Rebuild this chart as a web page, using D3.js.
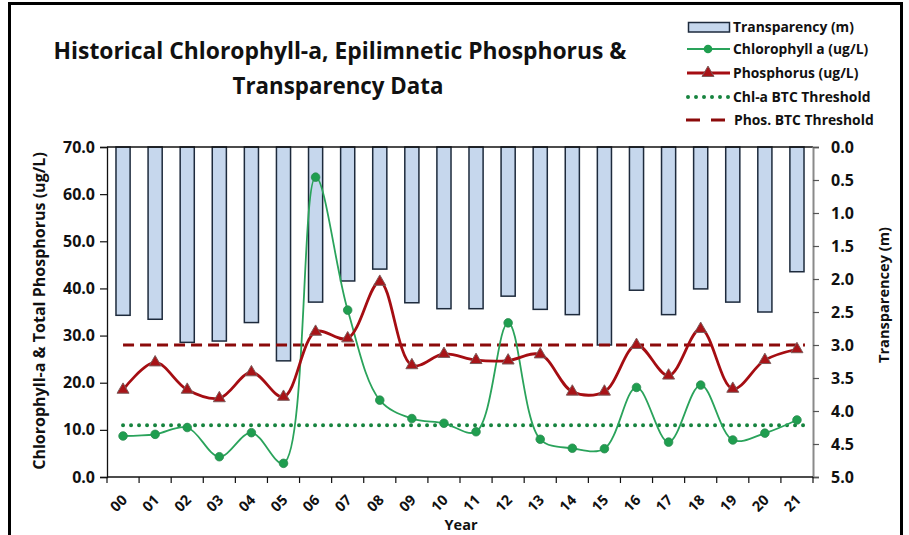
<!DOCTYPE html>
<html><head><meta charset="utf-8">
<script src="https://cdn.jsdelivr.net/npm/d3@7"></script>
<style>body{margin:0;background:#fff}svg{display:block}text{font-family:"Open Sans",sans-serif;font-weight:700;fill:#111}</style>
</head><body><svg id="c" width="909" height="535"></svg>
<script>
const years = ["00","01","02","03","04","05","06","07","08","09","10","11","12","13","14","15","16","17","18","19","20","21"];
const transparency = [2.55,2.61,2.96,2.94,2.66,3.24,2.35,2.03,1.85,2.36,2.45,2.45,2.26,2.46,2.54,3.0,2.17,2.54,2.15,2.35,2.5,1.89];
const chlorophyll = [8.7,9.05,10.5,4.3,9.4,2.9,63.6,35.4,16.3,12.4,11.4,9.6,32.7,8.0,6.1,6.0,19.0,7.4,19.5,7.85,9.3,12.1];
const phosphorus = [18.5,24.3,18.5,16.7,22.2,17.0,30.8,29.4,41.4,23.7,26.1,24.8,24.7,26.0,18.1,18.1,28.0,21.5,31.4,18.7,24.8,27.1];
const chlThreshold = 11;
const phosThreshold = 28;
const leftTicks = [0,10,20,30,40,50,60,70];
const rightTicks = [0,0.5,1,1.5,2,2.5,3,3.5,4,4.5,5];
const titleLines = ["Historical Chlorophyll-a, Epilimnetic Phosphorus &","Transparency Data"];
const legendLabels = ["Transparency (m)","Chlorophyll a (ug/L)","Phosphorus (ug/L)","Chl-a BTC Threshold","Phos. BTC Threshold"];

const svg = d3.select("#c");
const L = 107, R = 813, T = 147, B = 477;
const x = d3.scaleBand().domain(years).range([L, R]).padding(0);
const yL = d3.scaleLinear().domain([0, 70]).range([B, T]);
const yR = d3.scaleLinear().domain([0, 5]).range([T, B]);
const bw = x.bandwidth();
const cx = d => x(d) + bw / 2;

const C = {bar:"#c6d7ed", barStroke:"#1d2a3c", chl:"#2aa35b", chlDot:"#1f9e4f", phos:"#a50d12", tri:"#a81418", chlTh:"#17843f", phosTh:"#8b0a0a"};

function fit(sel, w) {
  sel.each(function(){
    const fs = parseFloat(this.getAttribute("font-size"));
    const len = this.getComputedTextLength();
    this.setAttribute("font-size", (fs * w / len).toFixed(2));
  });
}

// outer frame
svg.append("rect").attr("x", 9.5).attr("y", 3.5).attr("width", 892).attr("height", 545)
  .attr("fill", "#fff").attr("stroke", "#000").attr("stroke-width", 3);

// title
const t1 = svg.append("text").attr("x", 340).attr("y", 59).attr("text-anchor","middle").attr("font-size",20).text(titleLines[0]);
fit(t1, 573);
const t2 = svg.append("text").attr("x", 338).attr("y", 94).attr("text-anchor","middle").attr("font-size",20).text(titleLines[1]);
fit(t2, 211);

// bars (transparency, reversed secondary axis)
svg.append("g").selectAll("rect").data(years).join("rect")
  .attr("x", d => x(d) + bw * 0.28).attr("width", bw * 0.44)
  .attr("y", yR(0)).attr("height", (d, i) => yR(transparency[i]) - yR(0))
  .attr("fill", C.bar).attr("stroke", C.barStroke).attr("stroke-width", 1.5);

// thresholds
const x0 = cx(years[0]), x1 = cx(years[years.length - 1]);
svg.append("line").attr("x1", x0).attr("x2", x1 + 8).attr("y1", yL(phosThreshold)).attr("y2", yL(phosThreshold))
  .attr("stroke", C.phosTh).attr("stroke-width", 3).attr("stroke-dasharray", "11,6");
svg.append("line").attr("x1", x0).attr("x2", x1 + 8).attr("y1", yL(chlThreshold)).attr("y2", yL(chlThreshold))
  .attr("stroke", C.chlTh).attr("stroke-width", 4).attr("stroke-linecap","round").attr("stroke-dasharray", "0,8");

// lines
const lineL = d3.line().curve(d3.curveCatmullRom.alpha(0.5)).x(d => cx(d[0])).y(d => yL(d[1]));
svg.append("path").attr("d", lineL(years.map((d, i) => [d, chlorophyll[i]])))
  .attr("fill", "none").attr("stroke", C.chl).attr("stroke-width", 1.8);
svg.append("path").attr("d", lineL(years.map((d, i) => [d, phosphorus[i]])))
  .attr("fill", "none").attr("stroke", C.phos).attr("stroke-width", 2.8);

svg.append("g").selectAll("circle").data(years).join("circle")
  .attr("cx", d => cx(d)).attr("cy", (d, i) => yL(chlorophyll[i])).attr("r", 4.3)
  .attr("fill", C.chlDot).attr("stroke", "#2c8a50").attr("stroke-width", 0.8);
const tri = d3.symbol().type(d3.symbolTriangle).size(62);
svg.append("g").selectAll("path").data(years).join("path")
  .attr("d", tri).attr("transform", (d, i) => `translate(${cx(d)},${yL(phosphorus[i])})`)
  .attr("fill", C.tri).attr("stroke", "#7d5b5b").attr("stroke-width", 1);

// axes
svg.append("line").attr("x1", L).attr("x2", R).attr("y1", T).attr("y2", T).attr("stroke", "#111").attr("stroke-width", 1.3);
const gl = svg.append("g").attr("transform", `translate(${L},0)`)
  .call(d3.axisLeft(yL).tickValues(leftTicks).tickFormat(d3.format(".1f")).tickSize(7).tickPadding(5));
gl.select(".domain").attr("stroke", "#111").attr("stroke-width", 1.3);
gl.selectAll(".tick line").attr("stroke", "#111").attr("stroke-width", 1.2);
gl.selectAll(".tick text").attr("font-size", 16).attr("font-family", "Open Sans").attr("font-weight", 700).attr("fill", "#111");
const gr = svg.append("g").attr("transform", `translate(${R},0)`)
  .call(d3.axisRight(yR).tickValues(rightTicks).tickFormat(d3.format(".1f")).tickSize(6).tickPadding(12));
gr.select(".domain").attr("stroke", "#8a8a8a").attr("stroke-width", 2);
gr.selectAll(".tick line").attr("stroke", "#555").attr("stroke-width", 1.2);
gr.selectAll(".tick text").attr("font-size", 16).attr("font-family", "Open Sans").attr("font-weight", 700).attr("fill", "#111");
svg.append("line").attr("x1", L).attr("x2", R).attr("y1", B).attr("y2", B).attr("stroke", "#111").attr("stroke-width", 1.3);
const bounds = years.map(d => x(d)).concat([R]);
svg.append("g").selectAll("line").data(bounds).join("line")
  .attr("x1", d => d).attr("x2", d => d).attr("y1", B).attr("y2", B + 6)
  .attr("stroke", "#111").attr("stroke-width", 1.2);
svg.append("g").selectAll("text").data(years).join("text")
  .attr("transform", d => `translate(${cx(d) + 5},${501}) rotate(-45)`)
  .attr("text-anchor", "end").attr("font-size", 14.5).text(d => d);

// axis titles
const yt = svg.append("text").attr("transform", "translate(45,311) rotate(-90)").attr("text-anchor","middle")
  .attr("font-size", 15).text("Chlorophyll-a & Total Phosphorus (ug/L)");
fit(yt, 318);
const rt = svg.append("text").attr("transform", "translate(889,295) rotate(-90)").attr("text-anchor","middle")
  .attr("font-size", 14).text("Transparencey (m)");
fit(rt, 136);
svg.append("text").attr("x", 461).attr("y", 530).attr("text-anchor","middle").attr("font-size", 14.5).text("Year");

// legend
const lg = svg.append("g");
const ly = [27, 49, 73, 97, 120];
lg.append("rect").attr("x", 688.5).attr("y", 22.5).attr("width", 41).attr("height", 9.5)
  .attr("fill", C.bar).attr("stroke", C.barStroke).attr("stroke-width", 1.5);
lg.append("line").attr("x1", 687).attr("x2", 730).attr("y1", ly[1]).attr("y2", ly[1]).attr("stroke", C.chl).attr("stroke-width", 1.8);
lg.append("circle").attr("cx", 708).attr("cy", ly[1]).attr("r", 4.3).attr("fill", C.chlDot);
lg.append("line").attr("x1", 687).attr("x2", 730).attr("y1", ly[2]).attr("y2", ly[2]).attr("stroke", C.phos).attr("stroke-width", 2.8);
lg.append("path").attr("d", tri).attr("transform", `translate(708,${ly[2]})`).attr("fill", C.tri).attr("stroke", "#7d5b5b");
lg.append("line").attr("x1", 688).attr("x2", 730).attr("y1", ly[3]).attr("y2", ly[3]).attr("stroke", C.chlTh)
  .attr("stroke-width", 4).attr("stroke-linecap","round").attr("stroke-dasharray","0,8");
lg.append("line").attr("x1", 686).attr("x2", 728).attr("y1", ly[4]).attr("y2", ly[4]).attr("stroke", C.phosTh)
  .attr("stroke-width", 3).attr("stroke-dasharray","14,11");
const lt = lg.selectAll("text.l").data(legendLabels).join("text").attr("class","l")
  .attr("x", (d, i) => i === 4 ? 734 : 733).attr("y", (d, i) => ly[i]).attr("dy", "0.35em")
  .attr("font-size", 13).text(d => d);
const first = lt.filter((d, i) => i === 0).node();
const scale = 121 / first.getComputedTextLength();
lt.attr("font-size", 13 * scale);
</script></body></html>
